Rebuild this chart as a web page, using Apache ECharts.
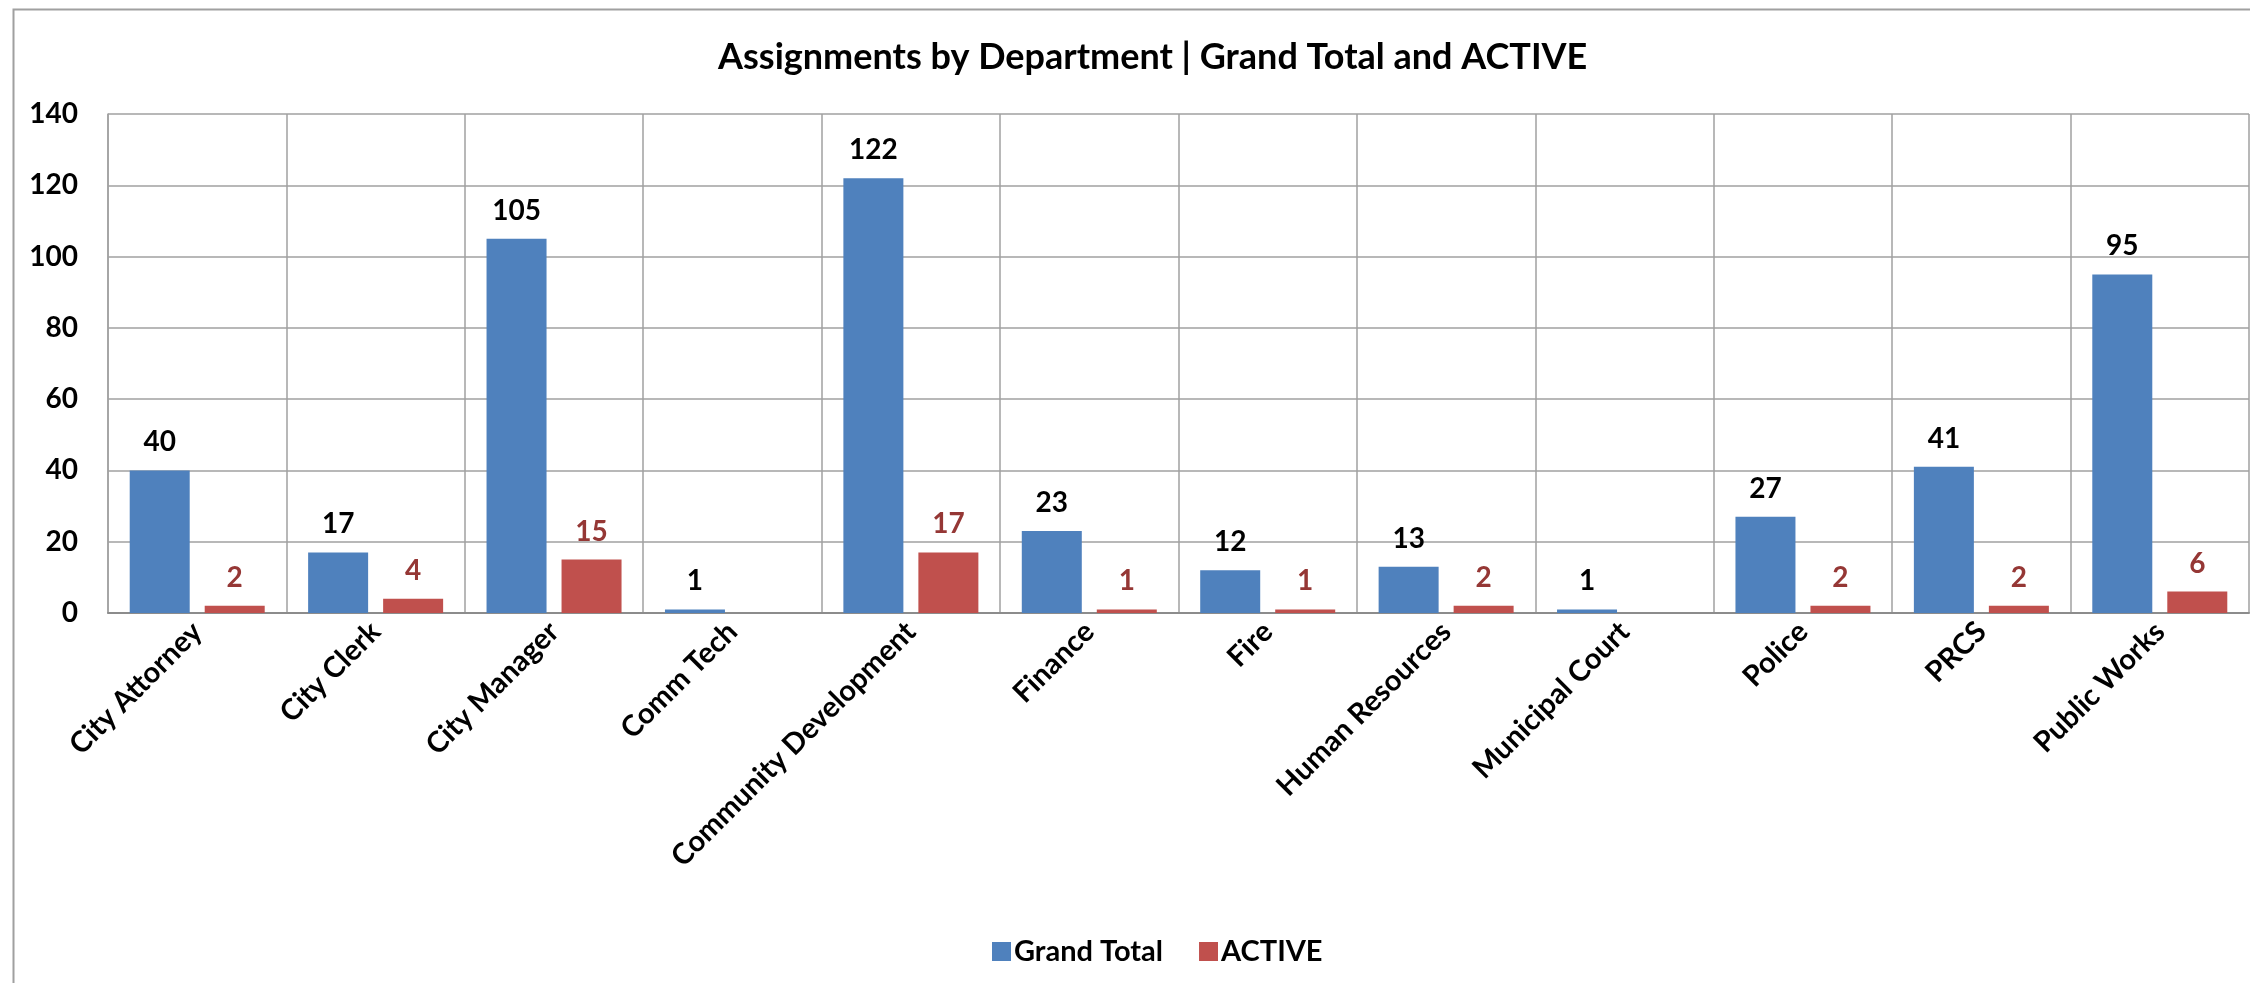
<!DOCTYPE html>
<html>
<head>
<meta charset="utf-8">
<script src="https://cdn.jsdelivr.net/npm/echarts@6/dist/echarts.min.js"></script>
<style>
html,body{margin:0;padding:0;background:#fff;}
#chart{width:2250px;height:983px;}
</style>
</head>
<body>
<div id="chart"></div>
<script>
var categories = ['City Attorney','City Clerk','City Manager','Comm Tech','Community Development','Finance','Fire','Human Resources','Municipal Court','Police','PRCS','Public Works'];
var grandTotal = [40,17,105,1,122,23,12,13,1,27,41,95];
var active = [2,4,15,null,17,1,1,2,null,2,2,6];
var yTicks = {min:0, max:140, interval:20};

var FONT = 'Lato';
var chart = echarts.init(document.getElementById('chart'), null, {renderer:'canvas'});
chart.setOption({
  backgroundColor:'#ffffff',
  animation:false,
  title:{
    text:'Assignments by Department | Grand Total and ACTIVE',
    left:713, top:34,
    textStyle:{fontFamily:FONT, fontWeight:'bold', fontSize:36, color:'#000'}
  },
  graphic:[{
    type:'rect', silent:true, z:-1,
    shape:{x:13.5,y:9.5,width:2400,height:1100},
    style:{fill:null, stroke:'#a0a0a0', lineWidth:2}
  }],
  legend:{
    data:['Grand Total','ACTIVE'],
    left:987, top:932,
    itemWidth:19, itemHeight:19, itemGap:36,
    icon:'rect',
    textStyle:{fontFamily:FONT, fontWeight:'bold', fontSize:29, color:'#000', padding:[0,0,0,-2]}
  },
  grid:{left:108, right:1, top:114, bottom:370, containLabel:false},
  xAxis:{
    type:'category',
    data:categories,
    axisLine:{show:true, lineStyle:{color:'#8c8c8c', width:2}},
    axisTick:{show:false},
    splitLine:{show:true, interval:0, lineStyle:{color:'#a0a0a0', width:1.5}},
    axisLabel:{interval:0, rotate:45, margin:14, fontFamily:FONT, fontWeight:'bold', fontSize:29, color:'#000'}
  },
  yAxis:{
    type:'value',
    min:yTicks.min, max:yTicks.max, interval:yTicks.interval,
    axisLine:{show:true, lineStyle:{color:'#a0a0a0', width:1.5}},
    axisTick:{show:false},
    splitLine:{show:true, lineStyle:{color:'#a0a0a0', width:1.5}},
    axisLabel:{margin:30, fontFamily:FONT, fontWeight:'bold', fontSize:28, color:'#000'}
  },
  series:[
    {
      name:'Grand Total', type:'bar', data:grandTotal,
      barWidth:60, barGap:'25%',
      itemStyle:{color:'#4F81BD'},
      label:{show:true, position:'top', distance:14, fontFamily:FONT, fontWeight:'bold', fontSize:28, color:'#000'}
    },
    {
      name:'ACTIVE', type:'bar', data:active,
      barWidth:60,
      itemStyle:{color:'#C0504D'},
      label:{show:true, position:'top', distance:14, fontFamily:FONT, fontWeight:'bold', fontSize:28, color:'#953735'}
    }
  ]
});
</script>
</body>
</html>
